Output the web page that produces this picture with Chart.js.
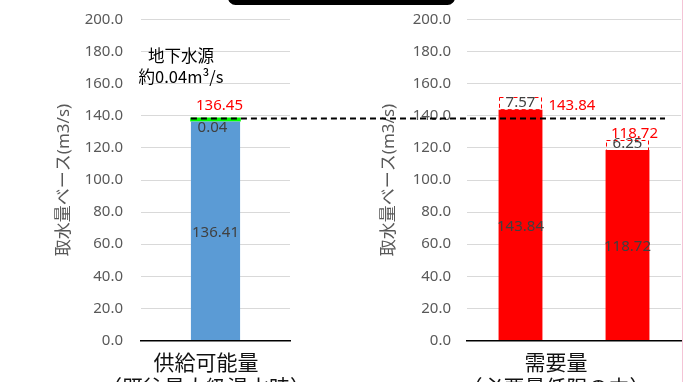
<!DOCTYPE html>
<html lang="ja">
<head>
<meta charset="utf-8">
<script src="https://cdn.jsdelivr.net/npm/chart.js@4.4.0/dist/chart.umd.min.js"></script>
<style>
  body { margin: 0; background: #fff; }
  #wrap { position: relative; width: 685px; height: 382px; overflow: hidden; font-family: 'Noto Sans CJK JP', sans-serif; }
  canvas { position: absolute; top: 0; }
  .xtitle { position: absolute; font-size: 21px; line-height: 25px; color: #111; text-align: center; white-space: nowrap; transform: translateX(-50%); }
  .note { position: absolute; font-size: 16.5px; line-height: 21px; color: #000; text-align: center; white-space: nowrap; transform: translateX(-50%); }
</style>
</head>
<body>
<div id="wrap">
  <div style="position:absolute;left:228px;top:-10px;width:227px;height:15px;background:#000;border-radius:8px;"></div>
  <canvas id="supplyChart" width="340" height="382" style="left:0"></canvas>
  <canvas id="demandChart" width="345" height="382" style="left:340px"></canvas>
  <div class="note" style="left:181px;top:44.5px">地下水源<br>約0.04m³/s</div>
  <div class="xtitle" style="left:206px;top:348.5px">供給可能量<br>（既往最大級渇水時）</div>
  <div class="xtitle" style="left:556px;top:348.5px">需要量<br>（必要量低限の中）</div>
  <div style="position:absolute;left:682px;top:0;width:1px;height:382px;background:#f4c4d6;"></div>
</div>
<script>
// values
const supplyLabels = ['供給可能量'];
const supplyRiver = [136.41];
const supplyGround = [0.04];
const demandLabels = ['需要量1', '需要量2'];
const demandBase = [143.84, 118.72];
const demandExtra = [7.57, 6.25];
const supplyLevel = 138.3;   // dashed reference line
const yMin = 0, yMax = 200, yStep = 20;
const axisTitle = '取水量ベース(m3/s)';

Chart.defaults.font.family = "'Noto Sans', 'Noto Sans CJK JP', sans-serif";

// tick gap done with invisible tick marks so the top padding stays small
function yScale(gap, titlePad, width) {
  return {
    stacked: true,
    min: yMin, max: yMax,
    ticks: { stepSize: yStep, padding: 2, color: '#595959', font: { size: 15 },
      callback: v => v.toFixed(1) },
    grid: { color: '#d9d9d9', drawTicks: true, tickLength: gap - 2, tickColor: 'rgba(0,0,0,0)' },
    border: { display: false },
    title: { display: true, text: axisTitle, color: '#595959', font: { size: 17 }, padding: { top: titlePad, bottom: 0 } },
    afterFit: s => { s.width = width; }
  };
}

function xScale() {
  return {
    stacked: true,
    ticks: { display: false },
    grid: { display: false, drawTicks: false },
    border: { display: true, color: '#000', width: 1.5 },
    afterFit: s => { s.height = 41.5; }
  };
}

function dashedLine(ctx, y, x1, x2) {
  ctx.save();
  ctx.strokeStyle = '#000';
  ctx.lineWidth = 2;
  ctx.setLineDash([6, 4]);
  ctx.beginPath();
  ctx.moveTo(x1, y);
  ctx.lineTo(x2, y);
  ctx.stroke();
  ctx.restore();
}

function text(ctx, str, x, y, color, align) {
  ctx.fillStyle = color;
  ctx.textAlign = align || 'center';
  ctx.textBaseline = 'middle';
  ctx.fillText(str, x, y);
}

const supplyDeco = {
  id: 'supplyDeco',
  afterDatasetsDraw(chart) {
    const ctx = chart.ctx;
    const bar = chart.getDatasetMeta(0).data[0];
    const g = chart.getDatasetMeta(1).data[0];
    ctx.save();
    ctx.font = "15px 'Noto Sans'";
    text(ctx, supplyRiver[0].toFixed(2), bar.x, (bar.y + bar.base) / 2 + 2, '#404040');
    text(ctx, supplyGround[0].toFixed(2), bar.x - 3, g.y + 10, '#404040');
    text(ctx, (supplyRiver[0] + supplyGround[0]).toFixed(2), bar.x + 4, g.y - 12, '#ff0000');
    ctx.restore();
    dashedLine(ctx, chart.scales.y.getPixelForValue(supplyLevel), bar.x - bar.width / 2, chart.width);
  }
};

const demandDeco = {
  id: 'demandDeco',
  afterDatasetsDraw(chart) {
    const ctx = chart.ctx;
    const bars = chart.getDatasetMeta(0).data;
    const boxes = chart.getDatasetMeta(1).data;
    ctx.save();
    ctx.font = "15px 'Noto Sans'";
    bars.forEach((bar, i) => {
      text(ctx, demandBase[i].toFixed(2), bar.x, (bar.y + bar.base) / 2 + 2, '#404040');
    });
    boxes.forEach((b, i) => {
      const left = Math.round(b.x - b.width / 2) + 0.5;
      const right = Math.round(b.x + b.width / 2) - 0.5;
      ctx.save();
      ctx.strokeStyle = '#ff0000';
      ctx.lineWidth = 1;
      ctx.setLineDash([4, 3]);
      ctx.strokeRect(left, Math.round(b.y) + 0.5, right - left, b.base - b.y);
      ctx.restore();
      text(ctx, demandExtra[i].toFixed(2), b.x, (b.y + b.base) / 2 - 1, '#404040');
      if (i === 0) {
        text(ctx, demandBase[i].toFixed(2), b.x + b.width / 2 + 6, b.y + 8, '#ff0000', 'left');
      } else {
        text(ctx, demandBase[i].toFixed(2), b.x + 7, b.y - 6, '#ff0000');
      }
    });
    ctx.restore();
    dashedLine(ctx, chart.scales.y.getPixelForValue(supplyLevel), 0, 325);
  }
};

new Chart(document.getElementById('supplyChart'), {
  type: 'bar',
  data: {
    labels: supplyLabels,
    datasets: [
      { label: '河川', data: supplyRiver, backgroundColor: '#5b9bd5', barPercentage: 0.33, categoryPercentage: 1 },
      { label: '地下水源', data: supplyGround, backgroundColor: '#00ff00', minBarLength: 4, barPercentage: 0.34, categoryPercentage: 1 }
    ]
  },
  options: {
    responsive: false,
    animation: false,
    layout: { padding: { top: 19.5, right: 50, left: 0, bottom: 0 } },
    plugins: { legend: { display: false }, tooltip: { enabled: false } },
    scales: { x: xScale(), y: yScale(18, 54, 141) }
  },
  plugins: [supplyDeco]
});

new Chart(document.getElementById('demandChart'), {
  type: 'bar',
  data: {
    labels: demandLabels,
    datasets: [
      { label: '需要量', data: demandBase, backgroundColor: '#ff0000', barPercentage: 0.41, categoryPercentage: 1 },
      { label: '不足分', data: demandExtra, backgroundColor: 'rgba(255,255,255,0)', barPercentage: 0.41, categoryPercentage: 1 }
    ]
  },
  options: {
    responsive: false,
    animation: false,
    layout: { padding: { top: 19.5, right: 4, left: 0, bottom: 0 } },
    plugins: { legend: { display: false }, tooltip: { enabled: false } },
    scales: { x: xScale(), y: yScale(16, 39, 127) }
  },
  plugins: [demandDeco]
});
</script>
</body>
</html>
